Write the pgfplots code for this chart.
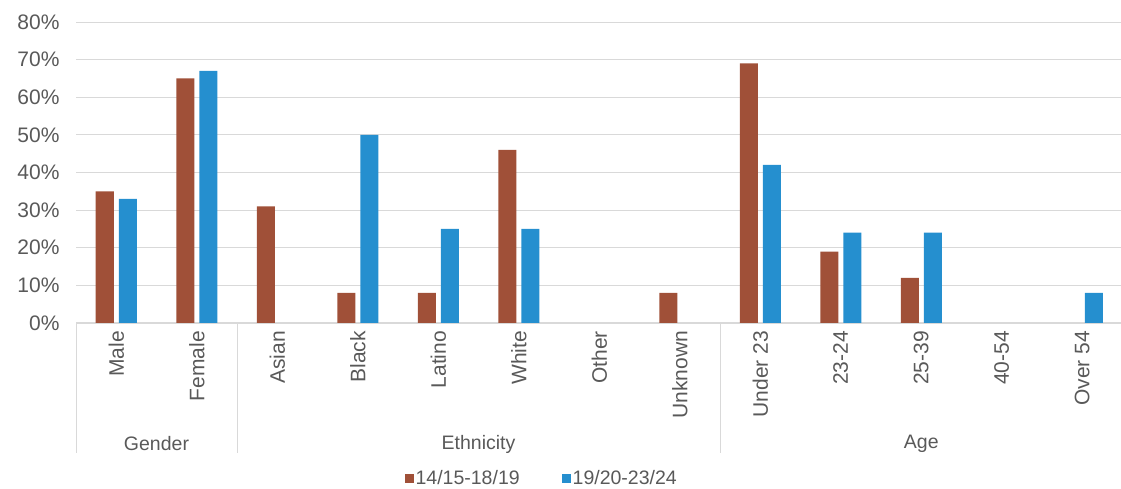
\documentclass[border=0pt]{standalone}
\usepackage{pgfplots}
\usepackage{pgfplotstable}
\pgfplotsset{compat=1.18}
\usepackage{fontspec}
\setmainfont{Liberation Sans}

\definecolor{serA}{RGB}{160,80,56}
\definecolor{serB}{RGB}{37,143,207}
\definecolor{txt}{RGB}{89,89,89}
\definecolor{gridc}{RGB}{217,217,217}

\newcommand{\lbl}{\fontsize{19.5}{23}\selectfont}
\newcommand{\tlbl}{\fontsize{21}{25}\selectfont}

% x: category index, a = 14/15-18/19, b = 19/20-23/24 (percent)
\pgfplotstableread{
x  a   b
0  35  33
1  65  67
2  31  0
3  8   50
4  8   25
5  46  25
6  0   0
7  8   0
8  69  42
9  19  24
10 12  24
11 0   0
12 0   8
}\shares

\begin{document}
\begin{tikzpicture}[x=1pt,y=1pt]
\useasboundingbox (0,0) rectangle (1121,489);
\begin{axis}[
    at={(76pt,166pt)}, anchor=south west,
    scale only axis, width=1046.5pt, height=301pt,
    clip=false,
    ybar=5pt, bar width=18pt,
    xmin=-0.5, xmax=12.5, ymin=0, ymax=80,
    enlargelimits=false,
    axis lines*=left,
    y axis line style={draw=none},
    x axis line style={draw=gridc, line width=1pt},
    major tick length=0pt,
    ymajorgrids, grid style={draw=gridc, line width=0.8pt},
    ytick={0,10,...,80},
    yticklabels={0\%,10\%,20\%,30\%,40\%,50\%,60\%,70\%,80\%},
    yticklabel style={xshift=-13pt},
    xtick={0,...,12},
    xticklabels={Male,Female,Asian,Black,Latino,White,Other,Unknown,Under 23,23-24,25-39,40-54,Over 54},
    xticklabel style={rotate=90, anchor=east},
    xticklabel shift=4.5pt,
    tick label style={font=\tlbl, text=txt},
    legend style={at={(0.445,-0.515)}, anchor=center, draw=none, fill=none,
        font=\lbl, text=txt, legend columns=2,
        /tikz/every even column/.append style={column sep=40pt},
        cells={anchor=west}},
]
\addplot[fill=serA, draw=none, restrict y to domain=0.5:100,
    legend image code/.code={\fill[serA] (0pt,-4.5pt) rectangle (9pt,4.5pt);}]
    table[x=x, y=a] {\shares};
\addlegendentry{14/15-18/19}
\addplot[fill=serB, draw=none, restrict y to domain=0.5:100,
    legend image code/.code={\fill[serB] (0pt,-4.5pt) rectangle (9pt,4.5pt);}]
    table[x=x, y=b] {\shares};
\addlegendentry{19/20-23/24}

\draw[gridc, line width=1pt] (axis cs:-0.5,0) -- ([yshift=-130pt]axis cs:-0.5,0);
\draw[gridc, line width=1pt] (axis cs:1.5,0) -- ([yshift=-130pt]axis cs:1.5,0);
\draw[gridc, line width=1pt] (axis cs:7.5,0) -- ([yshift=-130pt]axis cs:7.5,0);
\node[font=\lbl, text=txt] at ([yshift=-121pt]axis cs:0.5,0) {Gender};
\node[font=\lbl, text=txt] at ([yshift=-121pt]axis cs:4.5,0) {Ethnicity};
\node[font=\lbl, text=txt] at ([yshift=-121pt]axis cs:10,0) {Age};
\end{axis}
\end{tikzpicture}
\end{document}
